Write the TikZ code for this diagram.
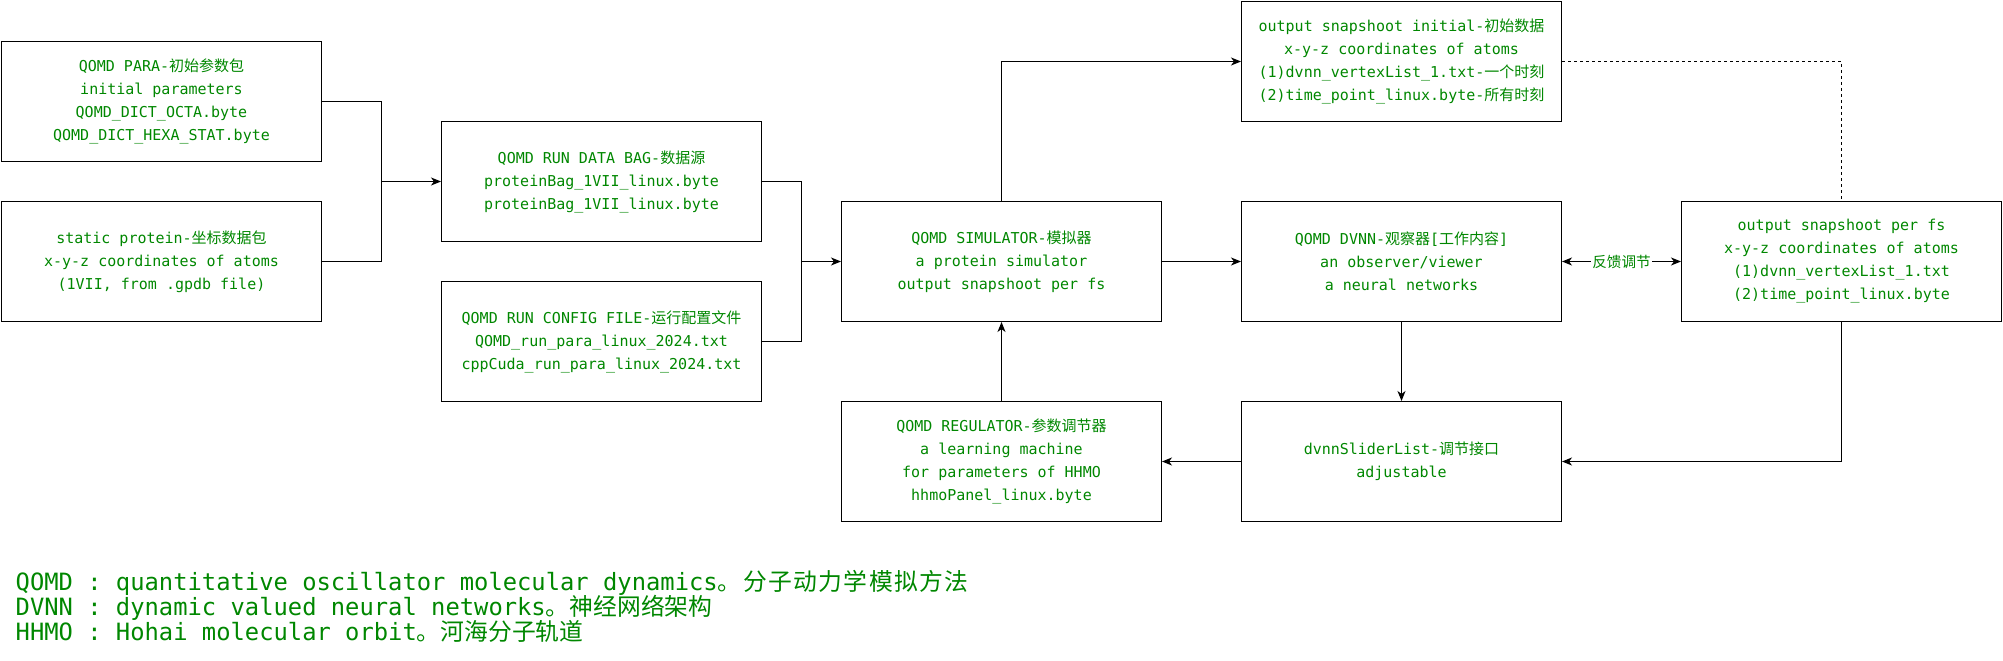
\documentclass[tikz,border=0pt]{standalone}
\usepackage{fontspec}
\usetikzlibrary{arrows.meta}
\newfontfamily\monof{DejaVu Sans Mono}
\newfontfamily\cjkf{Noto Sans CJK SC}
\newfontfamily\cjkwide[LetterSpace=6]{Noto Sans CJK SC}
\definecolor{txtgreen}{RGB}{0,135,0}
\newcommand\zhtxt[1]{{\cjkf #1}}
\begin{document}
\begin{tikzpicture}[x=1pt,y=-1pt,
  box/.style={draw, line width=1pt, minimum width=320pt, minimum height=120pt, inner sep=0pt,
    align=center, text=txtgreen, font=\monof\fontsize{15}{23}\selectfont},
  tip/.tip={Stealth[length=10pt,width=8pt,inset=3pt]},
  conn/.style={line width=1pt, -tip},
  plainline/.style={line width=1pt},
  legend/.style={anchor=base west, inner sep=0pt, text=txtgreen, font=\monof\fontsize{23.8}{25}\selectfont}]
\useasboundingbox (-1.5,-1.5) rectangle (2001.5,659.5);

\node[box] (para) at (160,100) {QOMD PARA-\zhtxt{初始参数包}\\initial parameters\\QOMD\_DICT\_OCTA.byte\\QOMD\_DICT\_HEXA\_STAT.byte};
\node[box] (static) at (160,260) {static protein-\zhtxt{坐标数据包}\\x-y-z coordinates of atoms\\(1VII, from .gpdb file)};
\node[box] (bag) at (600,180) {QOMD RUN DATA BAG-\zhtxt{数据源}\\proteinBag\_1VII\_linux.byte\\proteinBag\_1VII\_linux.byte};
\node[box] (config) at (600,340) {QOMD RUN CONFIG FILE-\zhtxt{运行配置文件}\\QOMD\_run\_para\_linux\_2024.txt\\cppCuda\_run\_para\_linux\_2024.txt};
\node[box] (sim) at (1000,260) {QOMD SIMULATOR-\zhtxt{模拟器}\\a protein simulator\\output snapshoot per fs};
\node[box] (init) at (1400,60) {output snapshoot initial-\zhtxt{初始数据}\\x-y-z coordinates of atoms\\(1)dvnn\_vertexList\_1.txt-\zhtxt{一个时刻}\\(2)time\_point\_linux.byte-\zhtxt{所有时刻}};
\node[box] (dvnn) at (1400,260) {QOMD DVNN-\zhtxt{观察器}[\zhtxt{工作内容}]\\an observer/viewer\\a neural networks};
\node[box] (perfs) at (1840,260) {output snapshoot per fs\\x-y-z coordinates of atoms\\(1)dvnn\_vertexList\_1.txt\\(2)time\_point\_linux.byte};
\node[box] (reg) at (1000,460) {QOMD REGULATOR-\zhtxt{参数调节器}\\a learning machine\\for parameters of HHMO\\hhmoPanel\_linux.byte};
\node[box] (slider) at (1400,460) {dvnnSliderList-\zhtxt{调节接口}\\adjustable};

\coordinate (j1) at (380,180);
\coordinate (j2) at (800,260);
\draw[plainline] (para.east) -| (j1);
\draw[plainline] (static.east) -| (j1);
\draw[conn] (j1) -- (bag.west);
\draw[plainline] (bag.east) -| (j2);
\draw[plainline] (config.east) -| (j2);
\draw[conn] (j2) -- (sim.west);
\draw[conn] (sim.north) |- (init.west);
\draw[conn] (sim) -- (dvnn);
\draw[conn] (dvnn) -- (slider);
\draw[conn] (slider) -- (reg);
\draw[conn] (reg) -- (sim);
\draw[line width=1pt, tip-tip] (dvnn) -- node[fill=white, inner sep=1.5pt, text=txtgreen, font=\cjkf\fontsize{14.6}{16}\selectfont] (fb) {反馈调节} (perfs);
\draw[conn] (perfs.south) |- (slider.east);
\draw[line width=1pt, dash pattern=on 3pt off 3pt] (init.east) -| (perfs.north);

\node[legend] (leg1) at (14,589) {QOMD : quantitative oscillator molecular dynamics{\cjkwide 。分子动力学模拟方法}};
\node[legend] (leg2) at (14,614) {DVNN : dynamic valued neural networks{\cjkf 。神经网络架构}};
\node[legend] (leg3) at (14,639) {HHMO : Hohai molecular orbit{\cjkf 。河海分子轨道}};
\end{tikzpicture}
\end{document}
